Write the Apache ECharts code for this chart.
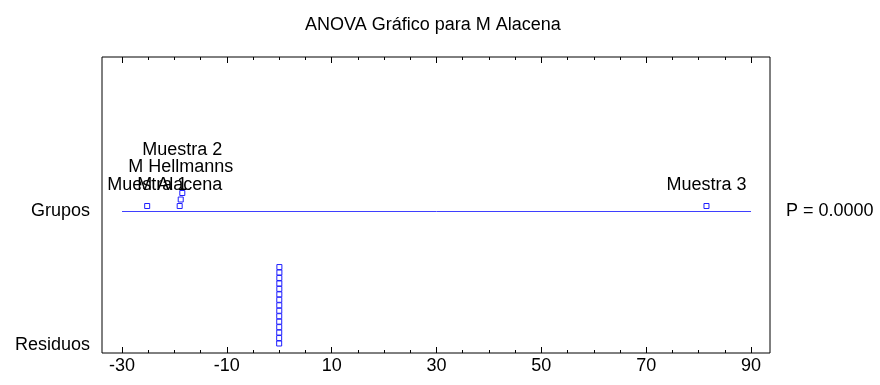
<!DOCTYPE html>
<html><head><meta charset="utf-8">
<script src="https://cdn.jsdelivr.net/npm/echarts@6/dist/echarts.min.js"></script>
<style>html,body{margin:0;padding:0;background:#fff}#c{width:880px;height:385px}</style>
</head><body><div id="c"></div>
<script>
// ---- data ----
const chartTitle = 'ANOVA Gráfico para M Alacena';
const groupNames = ['Muestra 1', 'M Alacena', 'M Hellmanns', 'Muestra 2', 'Muestra 3'];
const groupEffects = [-25.2, -19.0, -18.8, -18.5, 81.5];
const residuals = [0.02, -0.01, -0.01, 0.01, -0.02, 0.01, 0.00, 0.01, -0.01, 0.02, -0.02, 0.00, 0.01, -0.01, 0.00];
const xLabelTicks = [-30, -10, 10, 30, 50, 70, 90];
const xMinorTicks = [-30, -25, -20, -15, -10, -5, 0, 5, 10, 15, 20, 25, 30, 35, 40, 45, 50, 55, 60, 65, 70, 75, 80, 85, 90];
const rowNames = ['Residuos', 'Grupos'];
const pText = 'P = 0.0000';

// ---- layout (vertical rows in a 0..296 band) ----
const ROW_Y = { Residuos: 8, Grupos: 141.5 };
const FONT = 'Liberation Sans, Arial, sans-serif';
const FS = 18;

// stack near-equal values (dot plot)
function stackIndex(vals, tol) {
  const idx = vals.map((v, i) => i).sort((a, b) => vals[a] - vals[b]);
  const out = new Array(vals.length).fill(0);
  let prev = null, k = 0;
  idx.forEach(i => {
    if (prev !== null && Math.abs(vals[i] - vals[prev]) < tol) k++; else k = 0;
    out[i] = k; prev = i;
  });
  return out;
}
const gStack = stackIndex(groupEffects, 1);
const rStack = stackIndex(residuals, 1);

const grpPts = groupEffects.map((v, i) => [v, ROW_Y.Grupos + 5.5 + 6.5 * gStack[i], groupNames[i]]);
const grpLbl = groupEffects.map((v, i) => [v, ROW_Y.Grupos + 26.5 + 17.5 * gStack[i], groupNames[i]]);
const resPts = residuals.map((v, i) => [v, ROW_Y.Residuos + 1.5 + 5.46 * rStack[i]]);

const xMin = -33.82, xMax = 93.62;
function xAx(pos, ticks, len, labels) {
  return {
    type: 'value', position: pos, min: xMin, max: xMax,
    axisLine: { show: false }, splitLine: { show: false },
    axisTick: { show: true, inside: true, length: len, customValues: ticks, lineStyle: { color: '#000', width: 1 } },
    axisLabel: labels ? { show: true, customValues: ticks, color: '#000', fontSize: FS, fontFamily: FONT, margin: 4 } : { show: false }
  };
}
const markStyle = { color: '#fff', borderColor: '#1f1fff', borderWidth: 1, opacity: 1 };

const chart = echarts.init(document.getElementById('c'), null, { renderer: 'canvas' });
chart.setOption({
  animation: false,
  backgroundColor: '#fff',
  title: { text: chartTitle, left: 300, top: 11, textStyle: { fontSize: FS, fontWeight: 'normal', color: '#000', fontFamily: FONT } },
  grid: { left: 102, right: 110, top: 57, bottom: 32, show: true, borderColor: '#000', borderWidth: 1, backgroundColor: '#fff', outerBoundsMode: 'none' },
  xAxis: [
    xAx('bottom', xLabelTicks, 6, true),
    xAx('bottom', xMinorTicks, 3, false),
    xAx('top', xLabelTicks, 6, false),
    xAx('top', xMinorTicks, 3, false)
  ],
  yAxis: [
    { type: 'value', position: 'left', min: 0, max: 296, axisLine: { show: false }, axisTick: { show: false }, splitLine: { show: false },
      axisLabel: { customValues: [ROW_Y.Residuos, ROW_Y.Grupos], formatter: v => v === ROW_Y.Grupos ? rowNames[1] : rowNames[0], color: '#000', fontSize: FS, fontFamily: FONT, margin: 12 } },
    { type: 'value', position: 'right', min: 0, max: 296, axisLine: { show: false }, axisTick: { show: false }, splitLine: { show: false },
      axisLabel: { customValues: [ROW_Y.Grupos], formatter: () => pText, color: '#000', fontSize: FS, fontFamily: FONT, margin: 16 } }
  ],
  series: [
    { type: 'scatter', xAxisIndex: 0, yAxisIndex: 0, data: grpPts, symbol: 'rect', symbolSize: 5, itemStyle: markStyle, z: 3,
      markLine: { silent: true, symbol: ['none', 'none'], label: { show: false },
        lineStyle: { color: '#3f3fff', width: 1, type: 'solid', opacity: 1 },
        emphasis: { disabled: true },
        data: [[{ coord: [xLabelTicks[0], ROW_Y.Grupos] }, { coord: [xLabelTicks[xLabelTicks.length - 1], ROW_Y.Grupos] }]] } },
    { type: 'scatter', xAxisIndex: 0, yAxisIndex: 0, data: resPts, symbol: 'rect', symbolSize: 5, itemStyle: markStyle },
    { type: 'scatter', xAxisIndex: 0, yAxisIndex: 0, data: grpLbl, symbolSize: 0, itemStyle: { opacity: 1 },
      label: { show: true, position: 'inside', formatter: p => p.data[2], color: '#000', fontSize: FS, fontFamily: FONT } }
  ]
});
</script></body></html>
